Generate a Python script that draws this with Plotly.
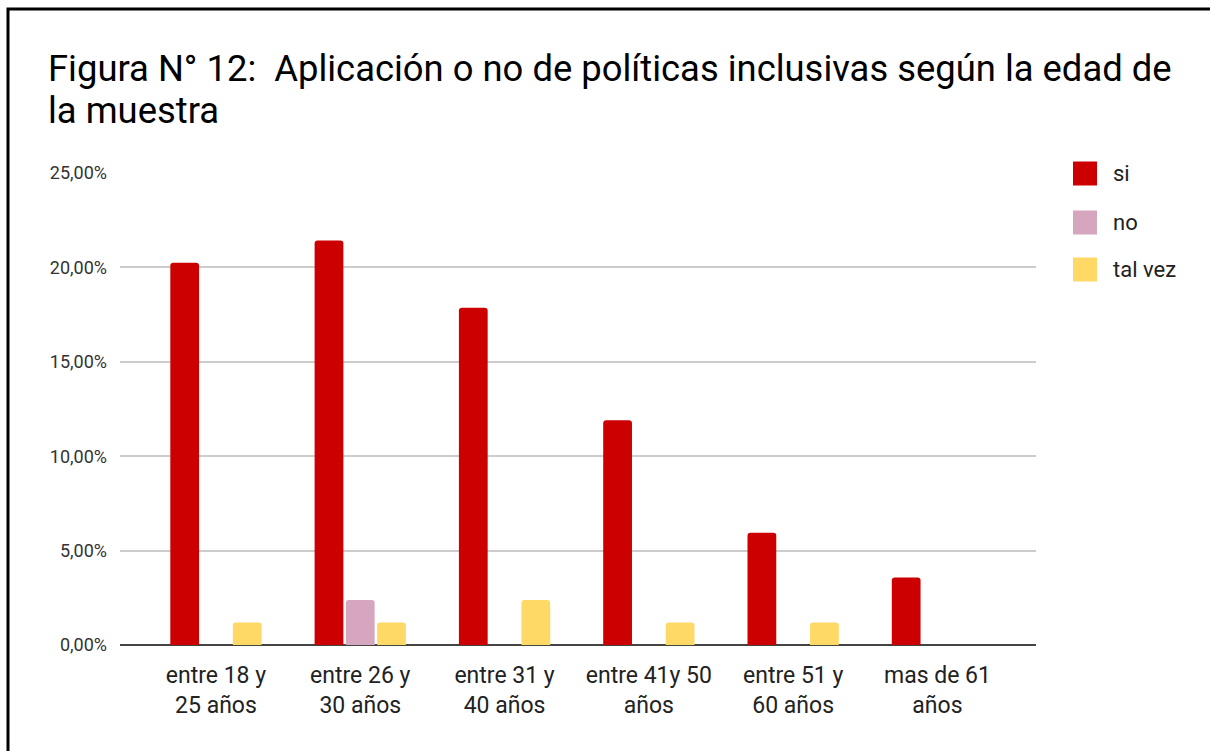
import plotly.graph_objects as go

# Age groups (x categories)
categories = [
    "entre 18 y<br>25 años",
    "entre 26 y<br>30 años",
    "entre 31 y<br>40 años",
    "entre 41y 50<br>años",
    "entre 51 y<br>60 años",
    "mas de 61<br>años",
]

# Percentage of the sample per answer
si_vals = [20.24, 21.43, 17.86, 11.90, 5.95, 3.57]
no_vals = [0.00, 2.38, 0.00, 0.00, 0.00, 0.00]
talvez_vals = [1.19, 1.19, 2.38, 1.19, 1.19, 0.00]

series_names = ["si", "no", "tal vez"]
series_colors = ["#cc0000", "#d5a6bd", "#ffd966"]

y_ticks = [0, 5, 10, 15, 20, 25]
y_ticktext = ["0,00%", "5,00%", "10,00%", "15,00%", "20,00%", "25,00%"]

title_lines = [
    "Figura N° 12:  Aplicación o no de políticas inclusivas según la edad de",
    "la muestra",
]

FONT = "Roboto, Arial, sans-serif"

fig = go.Figure()
for name, vals, color in zip(series_names, [si_vals, no_vals, talvez_vals], series_colors):
    fig.add_trace(go.Bar(
        name=name,
        x=list(range(len(categories))),
        y=vals,
        marker=dict(color=color, line=dict(width=0)),
        showlegend=False,
    ))

# plot area in pixels: x 120..1036, y 173..645
L, R, T, B = 120, 1036, 173, 645
W, H = 1210, 751
pw, ph = R - L, B - T


def px_x(px):
    return (px - L) / pw


def px_y(py):
    return (B - py) / ph


shapes = [
    # outer frame
    dict(type="rect", xref="paper", yref="paper",
         x0=px_x(8), x1=px_x(1220), y0=px_y(770), y1=px_y(9),
         line=dict(color="#000000", width=3), fillcolor="rgba(0,0,0,0)", layer="above"),
]

annotations = []
# two-line title
for line, cy in zip(title_lines, [68, 110]):
    annotations.append(dict(text=line, xref="paper", yref="paper", x=px_x(46), y=px_y(cy),
                            xanchor="left", yanchor="middle", align="left", showarrow=False,
                            font=dict(family=FONT, size=36.4, color="#000000")))

# legend drawn as swatches + labels
legend_centers = [173.5, 222.5, 269.5]
for name, color, cy in zip(series_names, series_colors, legend_centers):
    shapes.append(dict(type="rect", xref="paper", yref="paper",
                       x0=px_x(1073), x1=px_x(1097), y0=px_y(cy + 12), y1=px_y(cy - 12),
                       line=dict(width=0), fillcolor=color))
    annotations.append(dict(text=name, xref="paper", yref="paper",
                            x=px_x(1111), y=px_y(cy), xanchor="left", yanchor="middle",
                            showarrow=False, font=dict(family=FONT, size=22, color="#222222")))

fig.update_layout(
    width=W, height=H,
    margin=dict(l=L, r=W - R, t=T, b=H - B, pad=0),
    paper_bgcolor="white",
    plot_bgcolor="white",
    barmode="group",
    bargap=0.35,
    bargroupgap=0.08,
    barcornerradius=3,
    font=dict(family=FONT, color="#222222"),
    shapes=shapes,
    annotations=annotations,
    xaxis=dict(
        tickmode="array",
        tickvals=list(range(len(categories))),
        ticktext=categories,
        range=[-0.665, 5.683],
        showgrid=False,
        zeroline=False,
        showline=False,
        ticks="",
        ticklabelstandoff=14,
        tickfont=dict(family=FONT, size=23, color="#222222"),
        fixedrange=True,
    ),
    yaxis=dict(
        range=[0, 25],
        tickmode="array",
        tickvals=y_ticks,
        ticktext=y_ticktext,
        showgrid=True,
        gridcolor="#cccccc",
        gridwidth=1.5,
        zeroline=True,
        zerolinecolor="#444444",
        zerolinewidth=2,
        showline=False,
        ticks="",
        ticklabelstandoff=12,
        tickfont=dict(family=FONT, size=18, color="#333333"),
        fixedrange=True,
    ),
)

fig.write_html("out.html")
